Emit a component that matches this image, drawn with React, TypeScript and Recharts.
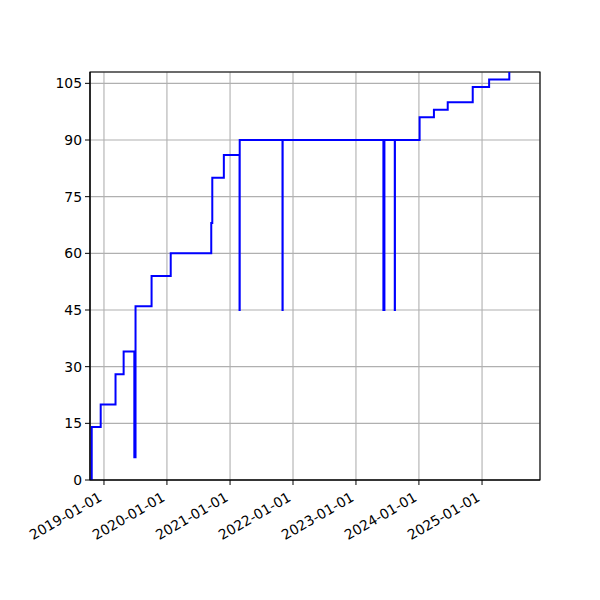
import { CartesianGrid, Line, LineChart, ReferenceArea, XAxis, YAxis } from 'recharts';

const dates = [
  '2018-10-12', '2018-10-22', '2018-12-13', '2019-03-09', '2019-04-25',
  '2019-06-26', '2019-06-29', '2019-07-01', '2019-07-03', '2019-10-04',
  '2020-01-23', '2020-09-14', '2020-09-20', '2020-11-26', '2021-02-25',
  '2021-02-26', '2021-11-01', '2021-11-02', '2023-06-09', '2023-06-10',
  '2023-06-14', '2023-06-15', '2023-08-14', '2023-08-15', '2024-01-05',
  '2024-03-28', '2024-06-16', '2024-11-08', '2025-02-11', '2025-06-08',
];

const values = [
  0, 14, 20, 28, 34,
  6, 34, 6, 46, 54,
  60, 68, 80, 86, 45,
  90, 45, 90, 45, 90,
  45, 90, 45, 90, 96,
  98, 100, 104, 106, 108,
];

const yearTicks = [
  '2019-01-01', '2020-01-01', '2021-01-01', '2022-01-01',
  '2023-01-01', '2024-01-01', '2025-01-01',
];

const yTicks = [0, 15, 30, 45, 60, 75, 90, 105];

const toTime = (s: string) => Date.parse(s + 'T00:00:00Z');

const xMin = toTime('2018-10-12');
const xMax = toTime('2025-12-03');
const yMax = 108;

const data = dates.map((d, i) => ({ t: toTime(d), v: values[i] }));

const fmtDate = (t: number) => new Date(t).toISOString().slice(0, 10);

const DateTick = ({ x, y, payload }: any) => {
  const px = x - 1;
  const py = y + 12;
  return (
    <text
      x={px}
      y={py}
      transform={`rotate(-30, ${px}, ${py})`}
      textAnchor="end"
      fontSize={13.9}
      fill="#000"
      fontFamily="DejaVu Sans"
    >
      {fmtDate(payload.value)}
    </text>
  );
};

const App = () => {
  return (
    <LineChart
      width={600}
      height={600}
      data={data}
      margin={{ top: 64, right: 68, bottom: 78, left: 32 }}
      style={{ fontFamily: 'DejaVu Sans' }}
    >
      <CartesianGrid stroke="#b0b0b0" strokeWidth={1.1} />
      <XAxis
        dataKey="t"
        type="number"
        domain={[xMin, xMax]}
        allowDataOverflow
        ticks={yearTicks.map(toTime)}
        tick={<DateTick />}
        interval={0}
        height={50}
        tickSize={5}
        tickMargin={3}
        stroke="#000"
        tickLine={{ stroke: '#000' }}
        axisLine={{ stroke: '#000', strokeWidth: 1.1 }}
      />
      <YAxis
        type="number"
        domain={[0, yMax]}
        allowDataOverflow
        ticks={yTicks}
        interval={0}
        width={50}
        tickSize={5}
        tickMargin={3}
        tick={{ fill: '#000', fontSize: 13.9 }}
        tickLine={{ stroke: '#000' }}
        axisLine={{ stroke: '#000', strokeWidth: 1.1 }}
      />
      <Line
        type="stepAfter"
        dataKey="v"
        stroke="#0000ff"
        strokeWidth={2}
        dot={false}
        activeDot={false}
        isAnimationActive={false}
      />
      <ReferenceArea
        x1={xMin}
        x2={xMax}
        y1={0}
        y2={yMax}
        fill="none"
        fillOpacity={0}
        stroke="#000"
        strokeWidth={1.1}
      />
    </LineChart>
  );
};

export default App;
